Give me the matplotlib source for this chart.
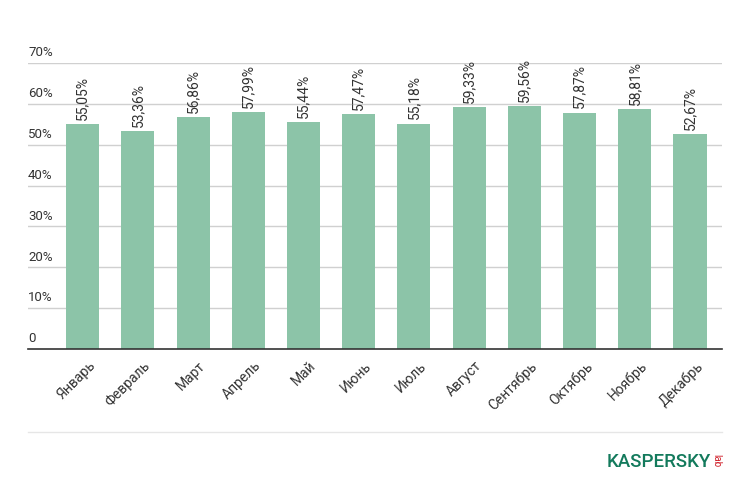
import numpy as np
import matplotlib.pyplot as plt
import matplotlib.transforms as mtransforms

months = ["Январь", "Февраль", "Март", "Апрель", "Май", "Июнь",
          "Июль", "Август", "Сентябрь", "Октябрь", "Ноябрь", "Декабрь"]
values = [55.05, 53.36, 56.86, 57.99, 55.44, 57.47,
          55.18, 59.33, 59.56, 57.87, 58.81, 52.67]
yticks = [0, 10, 20, 30, 40, 50, 60, 70]
ytick_labels = ["0", "10%", "20%", "30%", "40%", "50%", "60%", "70%"]

plt.rcParams['font.family'] = ['Roboto', 'DejaVu Sans']

fig = plt.figure(figsize=[7.5, 4.94], dpi=100)
ax = fig.add_axes([28/750, 145/494, 694/750, 286/494])

x = np.arange(len(months))
ax.bar(x, values, width=0.6, color="#8cc4a8", zorder=2)

# сетка и подписи оси y над линиями
trans = mtransforms.blended_transform_factory(ax.transAxes, ax.transData)
for t, lab in zip(yticks, ytick_labels):
    if t > 0:
        ax.axhline(t, color="#d0d0d0", lw=1, zorder=1)
    ax.text(0, t + 0.9, lab, transform=trans, ha="left", va="bottom",
            fontsize=9.5, color="#333333")

# подписи значений
for xi, v in zip(x, values):
    ax.text(xi, v + 1, f"{v:.2f}%".replace(".", ","), rotation=90,
            ha="center", va="bottom", fontsize=10, color="#333333")

ax.set_xlim(-0.99, 11.58)
ax.set_ylim(0, 70)
ax.set_yticks([])
ax.set_xticks(x + 0.1)
ax.set_xticklabels(months, rotation=45, ha="right", rotation_mode="anchor",
                   fontsize=10, color="#333333")
ax.tick_params(axis="x", length=0, pad=7)
for s in ["top", "right", "left"]:
    ax.spines[s].set_visible(False)
ax.spines["bottom"].set_color("#333333")
ax.spines["bottom"].set_linewidth(1.2)

# нижняя линия и логотип
fig.add_artist(plt.Line2D([28/750, 722/750], [1 - 432/494, 1 - 432/494],
                          color="#e6e6e6", lw=1))
fig.text(659/750, 1 - 462/494, "KASPERSKY", ha="center", va="center",
         fontsize=13.5, color="#137a5c", fontweight="medium")
fig.text(716/750, 1 - 461/494, "lab", ha="center", va="center",
         fontsize=7, color="#d0202a", rotation=-90)

plt.savefig("out.png")
